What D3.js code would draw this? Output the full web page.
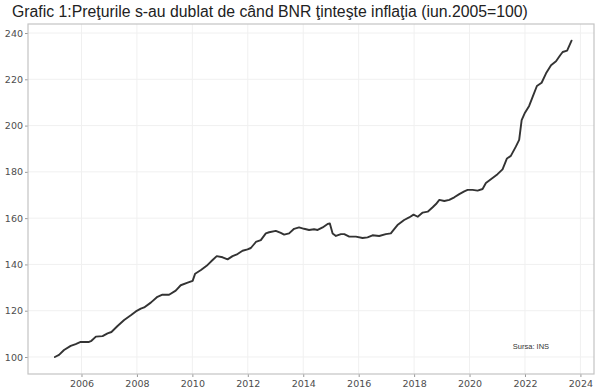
<!DOCTYPE html>
<html><head><meta charset="utf-8">
<script src="https://cdn.jsdelivr.net/npm/d3@7"></script>
<style>body{margin:0;background:#fff;} svg{display:block;}</style>
</head><body>
<script>
const title = "Grafic 1:Preţurile s-au dublat de când BNR ţinteşte inflaţia (iun.2005=100)";
const source = "Sursa: INS";
const years = [2005.04,2005.19,2005.37,2005.61,2005.79,2005.97,2006.27,2006.36,2006.52,2006.76,2006.94,2007.08,2007.30,2007.54,2007.78,2007.96,2008.14,2008.26,2008.50,2008.74,2008.92,2009.16,2009.40,2009.58,2009.83,2010.01,2010.10,2010.31,2010.55,2010.73,2010.88,2011.09,2011.27,2011.45,2011.63,2011.81,2011.99,2012.11,2012.29,2012.47,2012.65,2012.77,2013.01,2013.19,2013.31,2013.49,2013.67,2013.85,2014.03,2014.21,2014.39,2014.52,2014.70,2014.88,2014.96,2015.06,2015.18,2015.36,2015.48,2015.66,2015.90,2016.14,2016.32,2016.50,2016.74,2016.98,2017.16,2017.26,2017.40,2017.64,2017.82,2017.98,2018.13,2018.31,2018.49,2018.67,2018.79,2018.91,2019.09,2019.27,2019.45,2019.63,2019.81,2019.93,2020.11,2020.29,2020.47,2020.59,2020.77,2021.01,2021.19,2021.35,2021.49,2021.67,2021.79,2021.88,2022.00,2022.15,2022.28,2022.43,2022.60,2022.76,2022.94,2023.12,2023.27,2023.36,2023.52,2023.68];
const values = [100.0,100.9,103.0,104.8,105.6,106.5,106.5,107.0,108.8,109.0,110.2,110.8,113.4,116.0,118.0,119.7,120.9,121.4,123.5,126.0,126.9,126.9,128.7,131.0,132.1,132.9,136.0,137.6,139.8,141.9,143.6,143.1,142.2,143.6,144.5,145.9,146.5,147.1,149.7,150.5,153.4,153.9,154.5,153.6,152.9,153.4,155.4,156.0,155.4,154.9,155.2,154.9,156.0,157.5,157.7,153.4,152.3,153.1,153.1,152.0,152.0,151.4,151.7,152.6,152.3,153.1,153.4,154.9,157.0,159.2,160.3,161.5,160.6,162.4,162.8,164.7,166.1,167.9,167.4,167.9,169.0,170.4,171.6,172.2,172.2,171.9,172.6,175.2,176.8,179.0,181.1,185.8,186.9,190.9,193.8,202.4,205.6,208.5,212.5,217.1,218.5,222.6,226.1,227.8,230.4,231.8,232.4,236.7];
const xTicks = [2006,2008,2010,2012,2014,2016,2018,2020,2022,2024];
const yTicks = [100,120,140,160,180,200,220,240];

const W = 600, H = 391;
const L = 28, R = 594, T = 24, B = 374;
const svg = d3.select("body").append("svg").attr("width", W).attr("height", H);
const x = d3.scaleLinear().domain([2004.07, 2024.49]).range([L, R]);
const y = d3.scaleLinear().domain([92.65, 243.9]).range([B, T]);

svg.append("text").attr("x", 12).attr("y", 17)
  .attr("font-family", "Liberation Sans, Arial, sans-serif").attr("font-size", 15.8)
  .attr("fill", "#222").text(title);

const g = svg.append("g");
g.selectAll("line.gy").data(yTicks).join("line")
  .attr("x1", L).attr("x2", R).attr("y1", d => y(d)).attr("y2", d => y(d))
  .attr("stroke", "#f0f0f0").attr("stroke-width", 1);
g.selectAll("line.gx").data(xTicks).join("line")
  .attr("y1", T).attr("y2", B).attr("x1", d => x(d)).attr("x2", d => x(d))
  .attr("stroke", "#f0f0f0").attr("stroke-width", 1);

const yAxis = svg.append("g").attr("transform", `translate(${L},0)`)
  .call(d3.axisLeft(y).tickValues(yTicks).tickSize(3).tickPadding(2));
const xAxis = svg.append("g").attr("transform", `translate(0,${B})`)
  .call(d3.axisBottom(x).tickValues(xTicks).tickFormat(d3.format("d")).tickSize(3).tickPadding(3));
[yAxis, xAxis].forEach(a => {
  a.select(".domain").remove();
  a.selectAll(".tick line").attr("stroke", "#999");
  a.selectAll("text").attr("fill", "#4d4d4d").attr("font-size", 9.5)
    .attr("font-family", "DejaVu Sans, sans-serif");
});

svg.append("rect").attr("x", L).attr("y", T).attr("width", R - L).attr("height", B - T)
  .attr("fill", "none").attr("stroke", "#c4c4c4").attr("stroke-width", 1.2);

const line = d3.line().x((d, i) => x(years[i])).y(d => y(d)).curve(d3.curveLinear);
svg.append("path").datum(values).attr("d", line)
  .attr("fill", "none").attr("stroke", "#333").attr("stroke-width", 1.9)
  .attr("stroke-linejoin", "round").attr("stroke-linecap", "round");

svg.append("text").attr("x", 531).attr("y", 349).attr("text-anchor", "middle")
  .attr("font-family", "Liberation Sans, Arial, sans-serif").attr("font-size", 7.5)
  .attr("fill", "#333").text(source);
</script>
</body></html>
